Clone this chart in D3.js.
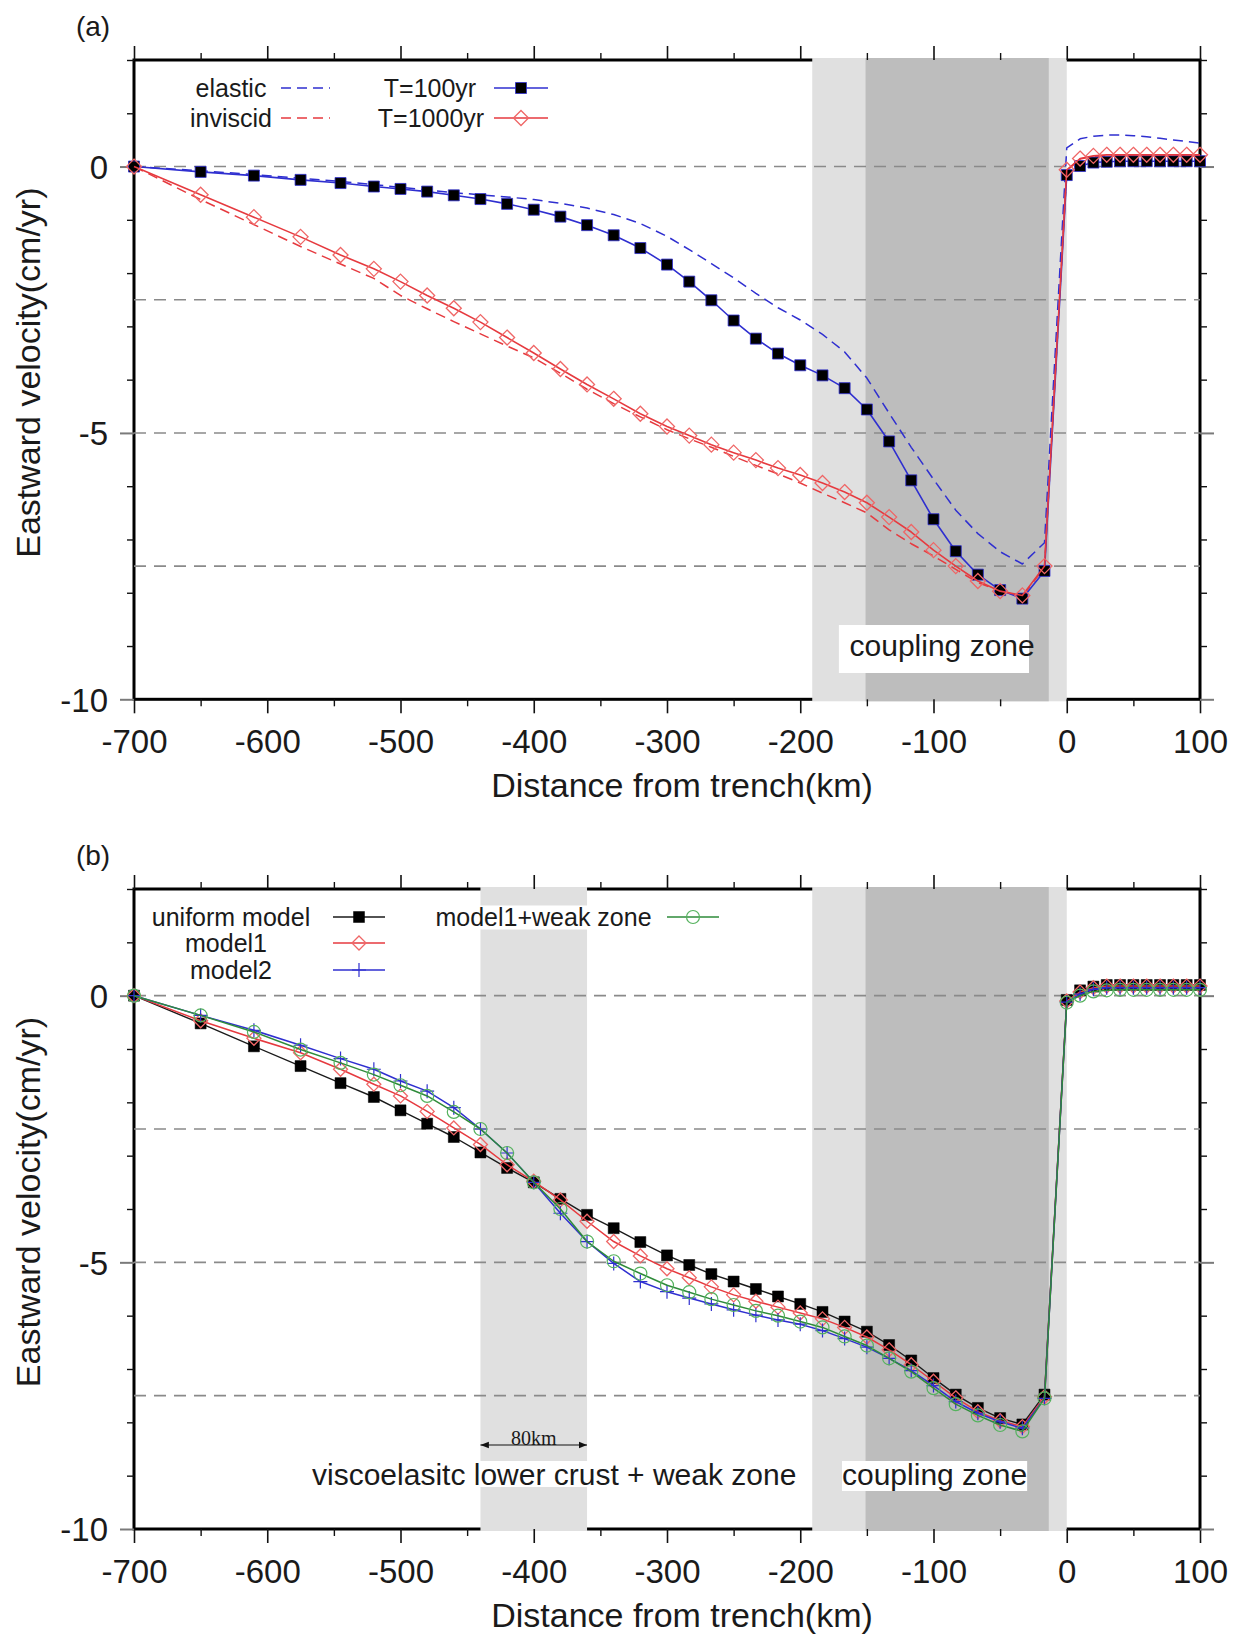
<!DOCTYPE html>
<html>
<head>
<meta charset="utf-8">
<script src="https://cdn.jsdelivr.net/npm/d3@7"></script>
<style>
  body { margin: 0; background: #fff; }
  svg { display: block; }
  text { font-family: "Liberation Sans", Arial, sans-serif; fill: #1a1a1a; }
</style>
</head>
<body>
<svg id="fig" width="1236" height="1634"></svg>
<script>
// Model nodes along the profile (km from trench, negative = landward)
const distanceKm = [-700, -650, -610, -575, -545, -520,
  -500, -480, -460, -440, -420, -400, -380, -360, -340, -320, -300,
  -283.3, -266.7, -250, -233.3, -216.7, -200, -183.3, -166.7, -150, -133.3,
  -116.7, -100, -83.3, -66.7, -50, -33.3, -16.7,
  0, 10, 20, 30, 40, 50, 60, 70, 80, 90, 100];

// (a) eastward velocity, cm/yr
const velElastic = [0, -0.08, -0.15, -0.22, -0.28, -0.34,
  -0.39, -0.44, -0.49, -0.53, -0.57, -0.62, -0.69, -0.78, -0.9, -1.07, -1.31,
  -1.56, -1.82, -2.09, -2.38, -2.65, -2.88, -3.15, -3.48, -3.97, -4.63,
  -5.27, -5.87, -6.45, -6.89, -7.23, -7.46, -7.06,
  0.35, 0.52, 0.57, 0.59, 0.59, 0.58, 0.56, 0.53, 0.5, 0.47, 0.44];
const velInviscid = [0, -0.62, -1.09, -1.5, -1.83, -2.1,
  -2.42, -2.67, -2.91, -3.14, -3.37, -3.59, -3.88, -4.18, -4.45, -4.7, -4.94,
  -5.11, -5.27, -5.44, -5.61, -5.77, -5.94, -6.13, -6.31, -6.5, -6.82,
  -7.08, -7.31, -7.56, -7.81, -7.97, -8.07, -7.52,
  -0.08, 0.14, 0.19, 0.2, 0.2, 0.2, 0.2, 0.2, 0.2, 0.2, 0.2];
const velT100 = [0, -0.1, -0.17, -0.25, -0.31, -0.375,
  -0.42, -0.47, -0.54, -0.61, -0.7, -0.81, -0.94, -1.1, -1.29, -1.53, -1.84,
  -2.16, -2.51, -2.89, -3.23, -3.51, -3.73, -3.92, -4.16, -4.56, -5.16,
  -5.89, -6.62, -7.22, -7.66, -7.95, -8.11, -7.59,
  -0.16, 0.01, 0.075, 0.09, 0.1, 0.1, 0.1, 0.1, 0.1, 0.1, 0.1];
const velT1000 = [0, -0.53, -0.95, -1.32, -1.66, -1.92,
  -2.16, -2.42, -2.66, -2.92, -3.21, -3.5, -3.8, -4.09, -4.36, -4.64, -4.88,
  -5.05, -5.22, -5.37, -5.51, -5.66, -5.79, -5.94, -6.11, -6.31, -6.58,
  -6.86, -7.2, -7.5, -7.78, -7.97, -8.05, -7.5,
  -0.06, 0.15, 0.2, 0.22, 0.22, 0.22, 0.22, 0.22, 0.22, 0.22, 0.22];

// (b) eastward velocity, cm/yr
const velUniform = [0, -0.52, -0.95, -1.32, -1.64, -1.9,
  -2.15, -2.4, -2.65, -2.94, -3.23, -3.5, -3.81, -4.11, -4.36, -4.62, -4.87,
  -5.05, -5.22, -5.36, -5.5, -5.64, -5.78, -5.93, -6.11, -6.3, -6.55,
  -6.84, -7.17, -7.48, -7.73, -7.92, -8.04, -7.48,
  -0.08, 0.1, 0.17, 0.2, 0.2, 0.2, 0.2, 0.2, 0.2, 0.2, 0.2];
const velModel1 = [0, -0.47, -0.8, -1.07, -1.38, -1.66,
  -1.88, -2.17, -2.48, -2.79, -3.17, -3.48, -3.83, -4.23, -4.61, -4.88, -5.12,
  -5.29, -5.46, -5.61, -5.73, -5.84, -5.95, -6.06, -6.22, -6.4, -6.64,
  -6.92, -7.23, -7.54, -7.8, -7.97, -8.08, -7.52,
  -0.1, 0.07, 0.15, 0.18, 0.18, 0.18, 0.18, 0.18, 0.18, 0.18, 0.18];
const velModel2 = [0, -0.37, -0.65, -0.93, -1.18, -1.38,
  -1.6, -1.79, -2.1, -2.5, -2.95, -3.5, -4.08, -4.61, -5.02, -5.36, -5.55,
  -5.67, -5.78, -5.89, -5.99, -6.08, -6.16, -6.28, -6.43, -6.59, -6.8,
  -7.03, -7.31, -7.61, -7.83, -7.99, -8.11, -7.55,
  -0.12, 0.03, 0.12, 0.15, 0.15, 0.15, 0.15, 0.15, 0.15, 0.15, 0.15];
const velModel1Weak = [0, -0.37, -0.68, -1.01, -1.26, -1.48,
  -1.68, -1.88, -2.18, -2.5, -2.95, -3.5, -4.0, -4.61, -4.98, -5.21, -5.43,
  -5.56, -5.69, -5.8, -5.91, -6.0, -6.11, -6.22, -6.39, -6.56, -6.8,
  -7.05, -7.36, -7.66, -7.87, -8.05, -8.17, -7.55,
  -0.13, 0.0, 0.08, 0.1, 0.11, 0.11, 0.11, 0.11, 0.11, 0.11, 0.11];

// Axis ticks and reference lines
const xMajorTicks = [-700, -600, -500, -400, -300, -200, -100, 0, 100];
const xMinorTicks = [-650, -550, -450, -350, -250, -150, -50, 50];
const yMajorTicks = [-10, -5, 0];
const yMinorTicks = [-9, -8, -7, -6, -4, -3, -2, -1, 1, 2];
const gridLevels = [0, -2.5, -5, -7.5];

// Shaded zones (km)
const couplingOuter = [-191, 0];
const couplingInner = [-151, -13.5];
const weakZone = [-440, -360];

const svg = d3.select("#fig");
const x = d3.scaleLinear().domain([-700, 100]).range([134, 1200]);

const COL = {
  blue: "#2f2fd0", red: "#e63a3f", redMk: "#ef6666",
  green: "#2e8b3a", greenMk: "#55b25e", black: "#1a1a1a",
  grid: "#8a8a8a", light: "#e0e0e0", dark: "#bdbdbd"
};

const diamondPath = r => `M0,${-r}L${r},0L0,${r}L${-r},0Z`;
const plusPath = r => `M${-r},0H${r}M0,${-r}V${r}`;

function makePanel(top, bottom, zones, label) {
  const g = svg.append("g");
  const y = d3.scaleLinear().domain([-10, 2]).range([bottom, top]);

  // frame
  g.append("rect").attr("x", x(-700)).attr("y", top)
    .attr("width", x(100) - x(-700)).attr("height", bottom - top)
    .attr("fill", "none").attr("stroke", "#000").attr("stroke-width", 3);

  // shaded zones (painted over the frame edges)
  zones.forEach(z => {
    g.append("rect").attr("x", x(z.range[0])).attr("y", top - 2)
      .attr("width", x(z.range[1]) - x(z.range[0])).attr("height", bottom - top + 4)
      .attr("fill", z.fill);
  });

  // axes
  const styleAxis = (sel, color, width) => {
    sel.select(".domain").remove();
    sel.selectAll(".tick line").attr("stroke", color).attr("stroke-width", width);
  };
  const bottomMajor = g.append("g").attr("transform", `translate(0,${bottom})`)
    .call(d3.axisBottom(x).tickValues(xMajorTicks).tickSize(14).tickFormat(d => String(d)));
  styleAxis(bottomMajor, "#111", 1.6);
  bottomMajor.selectAll("text").attr("y", 54).attr("dy", null)
    .style("font-size", "33px").attr("fill", "#1a1a1a");
  const bottomMinor = g.append("g").attr("transform", `translate(0,${bottom})`)
    .call(d3.axisBottom(x).tickValues(xMinorTicks).tickSize(7).tickFormat(""));
  styleAxis(bottomMinor, "#111", 1.4);
  const topMajor = g.append("g").attr("transform", `translate(0,${top})`)
    .call(d3.axisTop(x).tickValues(xMajorTicks).tickSize(14).tickFormat(""));
  styleAxis(topMajor, "#111", 1.6);
  const topMinor = g.append("g").attr("transform", `translate(0,${top})`)
    .call(d3.axisTop(x).tickValues(xMinorTicks).tickSize(7).tickFormat(""));
  styleAxis(topMinor, "#111", 1.4);

  const leftMajor = g.append("g").attr("transform", `translate(${x(-700)},0)`)
    .call(d3.axisLeft(y).tickValues(yMajorTicks).tickSize(14).tickPadding(12).tickFormat(d => String(d)));
  styleAxis(leftMajor, "#7a7a7a", 2);
  leftMajor.selectAll("text").style("font-size", "33px").attr("fill", "#1a1a1a").attr("dy", "0.36em");
  const leftMinor = g.append("g").attr("transform", `translate(${x(-700)},0)`)
    .call(d3.axisLeft(y).tickValues(yMinorTicks).tickSize(7).tickFormat(""));
  styleAxis(leftMinor, "#111", 1.4);
  const rightMajor = g.append("g").attr("transform", `translate(${x(100)},0)`)
    .call(d3.axisRight(y).tickValues(yMajorTicks).tickSize(14).tickFormat(""));
  styleAxis(rightMajor, "#7a7a7a", 2);
  const rightMinor = g.append("g").attr("transform", `translate(${x(100)},0)`)
    .call(d3.axisRight(y).tickValues(yMinorTicks).tickSize(7).tickFormat(""));
  styleAxis(rightMinor, "#111", 1.4);

  // dashed reference lines
  g.append("g").selectAll("line").data(gridLevels).join("line")
    .attr("x1", x(-700)).attr("x2", x(100))
    .attr("y1", d => y(d)).attr("y2", d => y(d))
    .attr("stroke", COL.grid).attr("stroke-width", 1.6)
    .attr("stroke-dasharray", "12,8");

  // panel label and axis titles
  g.append("text").attr("x", 93).attr("y", top - 24).attr("text-anchor", "middle")
    .style("font-size", "28px").text(label);
  g.append("text").attr("x", 682).attr("y", bottom + 98).attr("text-anchor", "middle")
    .style("font-size", "34px").text("Distance from trench(km)");
  g.append("text").attr("transform", `translate(40,${(top + bottom) / 2 - 7}) rotate(-90)`)
    .attr("text-anchor", "middle").style("font-size", "34px")
    .text("Eastward velocity(cm/yr)");

  return { g, y };
}

function drawSeries(p, values, opt) {
  const pts = distanceKm.map((d, i) => [d, values[i]]);
  const line = d3.line().x(d => x(d[0])).y(d => p.y(d[1]));
  p.g.append("path").datum(pts).attr("d", line)
    .attr("fill", "none").attr("stroke", opt.color).attr("stroke-width", opt.width || 1.5)
    .attr("stroke-dasharray", opt.dash || null).attr("stroke-linejoin", "round");
  if (opt.marker) {
    p.g.append("g").selectAll("path").data(pts).join("path")
      .attr("transform", d => `translate(${x(d[0])},${p.y(d[1])})`)
      .attr("d", opt.marker)
      .attr("fill", opt.fill || "none")
      .attr("stroke", opt.mcolor || opt.color)
      .attr("stroke-width", opt.mwidth || 1.3);
  }
}

function legendRow(g, cx, cy, label, opt) {
  g.append("text").attr("x", cx).attr("y", cy + 8.5).attr("text-anchor", "middle")
    .style("font-size", "25px").text(label);
  g.append("line").attr("x1", opt.x1).attr("x2", opt.x2).attr("y1", cy).attr("y2", cy)
    .attr("stroke", opt.color).attr("stroke-width", 1.5)
    .attr("stroke-dasharray", opt.dash || null);
  if (opt.marker) {
    g.append("path").attr("transform", `translate(${(opt.x1 + opt.x2) / 2},${cy})`)
      .attr("d", opt.marker).attr("fill", opt.fill || "none")
      .attr("stroke", opt.mcolor || opt.color).attr("stroke-width", opt.mwidth || 1.3);
  }
}

const squareMk = d3.symbol().type(d3.symbolSquare).size(121)();
const circleMk = d3.symbol().type(d3.symbolCircle).size(Math.PI * 6.5 * 6.5)();

// ---------- panel (a) ----------
const pa = makePanel(60, 699.3, [
  { range: couplingOuter, fill: COL.light },
  { range: couplingInner, fill: COL.dark }
], "(a)");

drawSeries(pa, velElastic, { color: COL.blue, dash: "10,6", width: 1.5 });
drawSeries(pa, velInviscid, { color: COL.red, dash: "10,6", width: 1.5 });
drawSeries(pa, velT100, { color: COL.blue, width: 1.6, marker: squareMk, fill: "#000", mcolor: COL.blue, mwidth: 0.8 });
drawSeries(pa, velT1000, { color: COL.red, width: 1.6, marker: diamondPath(7.5), mcolor: COL.redMk, mwidth: 1.3 });

legendRow(pa.g, 231, 88, "elastic", { x1: 281, x2: 330, color: COL.blue, dash: "10,6" });
legendRow(pa.g, 231, 118, "inviscid", { x1: 281, x2: 330, color: COL.red, dash: "10,6" });
legendRow(pa.g, 430, 88, "T=100yr", { x1: 494, x2: 548, color: COL.blue, marker: squareMk, fill: "#000", mwidth: 0.8 });
legendRow(pa.g, 431, 118, "T=1000yr", { x1: 494, x2: 548, color: COL.red, marker: diamondPath(7.5), mcolor: COL.redMk });

pa.g.append("rect").attr("x", x(-171)).attr("y", 625)
  .attr("width", x(-28.3) - x(-171)).attr("height", 48).attr("fill", "#fff");
pa.g.append("text").attr("x", x(-163)).attr("y", 656)
  .style("font-size", "30px").text("coupling zone");

// ---------- panel (b) ----------
const pb = makePanel(889, 1529, [
  { range: weakZone, fill: COL.light },
  { range: couplingOuter, fill: COL.light },
  { range: couplingInner, fill: COL.dark }
], "(b)");

drawSeries(pb, velUniform, { color: COL.black, width: 1.4, marker: squareMk, fill: "#000", mcolor: "#000", mwidth: 0.5 });
drawSeries(pb, velModel1, { color: COL.red, width: 1.5, marker: diamondPath(7), mcolor: COL.redMk });
drawSeries(pb, velModel2, { color: COL.blue, width: 1.5, marker: plusPath(7), mcolor: COL.blue, mwidth: 1.2 });
drawSeries(pb, velModel1Weak, { color: COL.green, width: 1.5, marker: circleMk, mcolor: COL.greenMk, mwidth: 1.2 });

legendRow(pb.g, 231, 917, "uniform model", { x1: 333, x2: 385, color: COL.black, marker: squareMk, fill: "#000", mcolor: "#000", mwidth: 0.5 });
legendRow(pb.g, 226, 943, "model1", { x1: 333, x2: 385, color: COL.red, marker: diamondPath(7), mcolor: COL.redMk });
legendRow(pb.g, 231, 970, "model2", { x1: 333, x2: 385, color: COL.blue, marker: plusPath(7), mwidth: 1.2 });

// legend entry sitting over the weak-zone band gets a white backing
const weakLabel = pb.g.append("text").attr("x", 543.5).attr("y", 925.5).attr("text-anchor", "middle")
  .style("font-size", "25px").text("model1+weak zone");
const wb = weakLabel.node().getBBox();
pb.g.insert("rect", () => weakLabel.node()).attr("x", wb.x).attr("y", wb.y + 3)
  .attr("width", wb.width).attr("height", wb.height - 4).attr("fill", "#fff");
pb.g.append("line").attr("x1", 667).attr("x2", 719).attr("y1", 917).attr("y2", 917)
  .attr("stroke", COL.green).attr("stroke-width", 1.5);
pb.g.append("path").attr("transform", "translate(693,917)").attr("d", circleMk)
  .attr("fill", "none").attr("stroke", COL.greenMk).attr("stroke-width", 1.2);

// width marker of the weak zone
const defs = svg.append("defs");
["arrowEnd", "arrowStart"].forEach((id, i) => {
  defs.append("marker").attr("id", id).attr("viewBox", "0 0 10 10")
    .attr("refX", 10).attr("refY", 5).attr("markerWidth", 7).attr("markerHeight", 7)
    .attr("orient", i === 0 ? "auto" : "auto-start-reverse")
    .append("path").attr("d", "M0,1L10,5L0,9Z").attr("fill", "#111");
});
pb.g.append("line").attr("x1", x(weakZone[0])).attr("x2", x(weakZone[1]))
  .attr("y1", 1445).attr("y2", 1445).attr("stroke", "#111").attr("stroke-width", 1.2)
  .attr("marker-end", "url(#arrowEnd)").attr("marker-start", "url(#arrowStart)");
pb.g.append("text").attr("x", x((weakZone[0] + weakZone[1]) / 2)).attr("y", 1445)
  .attr("text-anchor", "middle")
  .style("font-family", "'Liberation Serif', 'Times New Roman', serif").style("font-size", "20px")
  .text("80km");

function boxedText(g, tx, ty, str) {
  const t = g.append("text").attr("x", tx).attr("y", ty).style("font-size", "30px").text(str);
  const b = t.node().getBBox();
  g.insert("rect", () => t.node()).attr("x", b.x).attr("y", b.y + 3)
    .attr("width", b.width).attr("height", b.height - 3).attr("fill", "#fff");
  return t;
}
const visco = pb.g.append("text").attr("x", 312).attr("y", 1485).style("font-size", "30px")
  .text("viscoelasitc lower crust + weak zone");
const vb = visco.node().getBBox();
pb.g.insert("rect", () => visco.node()).attr("x", vb.x).attr("y", vb.y + 3)
  .attr("width", vb.width).attr("height", 1487 - (vb.y + 3)).attr("fill", "#fff");
boxedText(pb.g, 842, 1485, "coupling zone");
</script>
</body>
</html>
